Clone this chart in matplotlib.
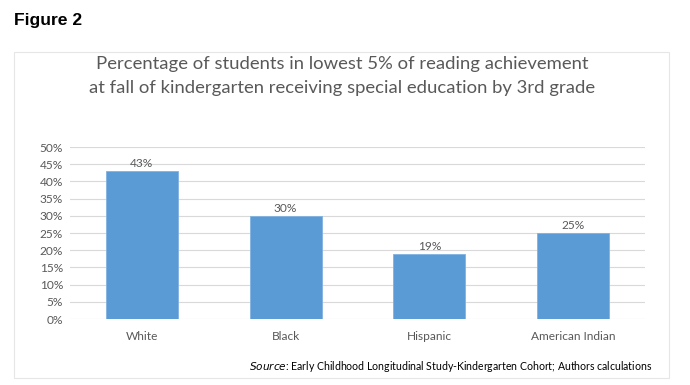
#!/usr/bin/env python3

import numpy as np
import matplotlib.pyplot as plt
from matplotlib.patches import Rectangle
from matplotlib.ticker import PercentFormatter

groups = ['White', 'Black', 'Hispanic', 'American Indian']
pct = [43, 30, 19, 25]
yticks = [0, 5, 10, 15, 20, 25, 30, 35, 40, 45, 50]

grey = '#595959'
bar_color = '#5B9BD5'
calibri_like = 'Lato'

fig = plt.figure(figsize=(6.9, 3.85), dpi=100)

# chart frame behind everything
fig.patches.append(Rectangle((14/690, 1 - 378/385), (669 - 14)/690, (378 - 52)/385,
                             transform=fig.transFigure, fill=False,
                             edgecolor='#E6E6E6', linewidth=0.8))

fig.text(14/690, 1 - 20/385, 'Figure 2', fontsize=12.6, fontweight='bold',
         family='Liberation Sans', va='center', ha='left', color='black')

fig.text(342/690, 1 - 64/385, 'Percentage of students in lowest 5% of reading achievement',
         fontsize=13.3, family=calibri_like, color=grey, ha='center', va='center')
fig.text(342/690, 1 - 88/385, 'at fall of kindergarten receiving special education by 3rd grade',
         fontsize=13.3, family=calibri_like, color=grey, ha='center', va='center')

ax = fig.add_axes([70/690, 1 - 319/385, (645 - 70)/690, (319 - 147)/385])
x = np.arange(len(groups))
bars = ax.bar(x, pct, width=0.5, color=bar_color, edgecolor='#7FB2E0', linewidth=0.6, zorder=3)

for xi, v in zip(x, pct):
    ax.text(xi, v + 0.5, f'{v}%', ha='center', va='bottom', fontsize=8.6,
            family=calibri_like, color=grey)

ax.set_xlim(-0.5, len(groups) - 0.5)
ax.set_ylim(0, 50)
ax.set_yticks(yticks)
ax.yaxis.set_major_formatter(PercentFormatter(decimals=0))
ax.set_xticks(x)
ax.set_xticklabels(groups)
ax.grid(True, axis='y', color='#D9D9D9', linewidth=0.8, zorder=0)
for s in ax.spines.values():
    s.set_visible(False)
ax.tick_params(length=0, labelsize=8.6, colors=grey, pad=5)
ax.tick_params(axis='x', pad=9)
for lbl in ax.get_xticklabels() + ax.get_yticklabels():
    lbl.set_family(calibri_like)

fig.text(652/690, 1 - 366/385, r'$\it{Source}$' + ': Early Childhood Longitudinal Study-Kindergarten Cohort; Authors calculations',
         fontsize=7.6, family=calibri_like, color='black', ha='right', va='center')

fig.savefig('out.png', dpi=100)
